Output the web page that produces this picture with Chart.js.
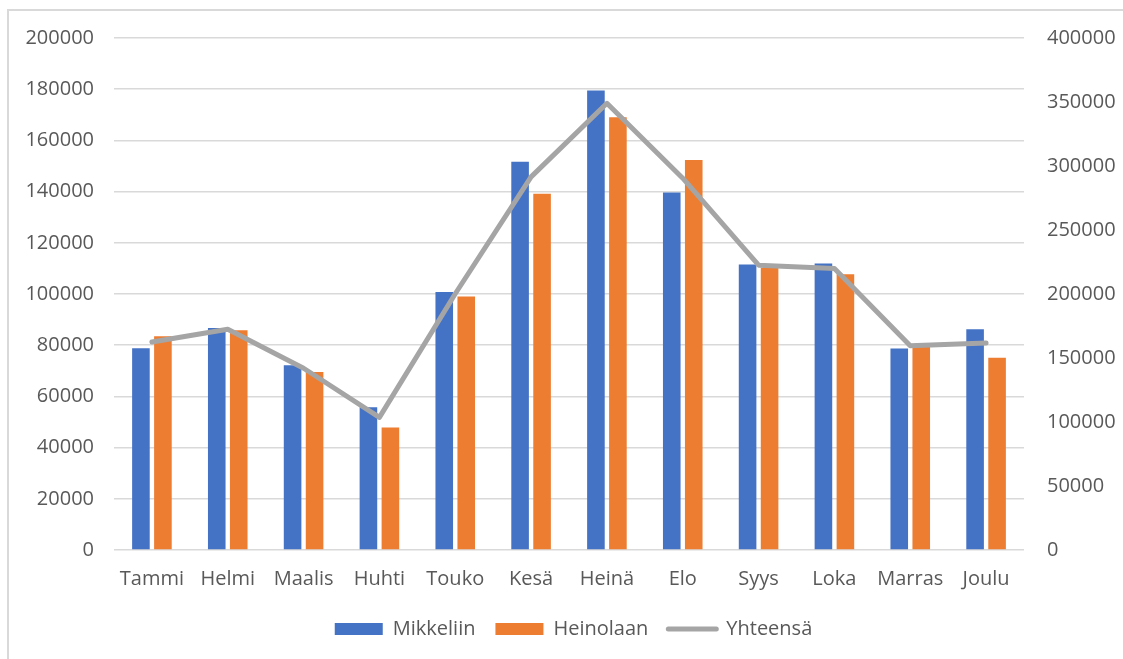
<!DOCTYPE html>
<html lang="fi">
<head>
<meta charset="utf-8">
<title>Matkustajat kuukausittain</title>
<script src="https://cdn.jsdelivr.net/npm/chart.js@4/dist/chart.umd.min.js"></script>
<style>
  html, body { margin: 0; padding: 0; background: #ffffff; }
  #wrap { position: relative; width: 1123px; height: 659px; overflow: hidden; background: #ffffff; }
  #frame { position: absolute; left: 7px; top: 9px; width: 1140px; height: 680px;
           border: 2px solid #d9d9d9; box-sizing: border-box; }
  #chart { position: absolute; left: 0; top: 0; }
</style>
</head>
<body>
<div id="wrap">
  <div id="frame"></div>
  <canvas id="chart" width="1123" height="659"></canvas>
</div>
<script>
// Kuukaudet
const months = ['Tammi', 'Helmi', 'Maalis', 'Huhti', 'Touko', 'Kesä', 'Heinä', 'Elo', 'Syys', 'Loka', 'Marras', 'Joulu'];

// Matkat Mikkeliin ja Heinolaan sekä yhteensä
const mikkeliin = [78800, 86700, 72200, 55800, 100800, 151700, 179500, 139600, 111500, 111900, 78700, 86200];
const heinolaan = [83500, 85800, 69500, 47900, 99000, 139200, 169000, 152300, 110200, 107700, 80500, 75100];
const yhteensa  = [162500, 172400, 142000, 103600, 200200, 291500, 349000, 290500, 222500, 220000, 159500, 161800];

// Akselien asteikot
const leftAxis  = { min: 0, max: 200000, step: 20000 };
const rightAxis = { min: 0, max: 400000, step: 50000 };

const BLUE = '#4472C4', ORANGE = '#ED7D31', GRAY = '#A5A5A5';
const TEXT = '#595959', GRID = '#D9D9D9';
const FONT = { family: "'Open Sans', sans-serif", size: 20 };

new Chart(document.getElementById('chart'), {
  type: 'bar',
  data: {
    labels: months,
    datasets: [
      { label: 'Mikkeliin', data: mikkeliin, backgroundColor: BLUE, yAxisID: 'y', order: 2,
        categoryPercentage: 0.58, barPercentage: 0.8 },
      { label: 'Heinolaan', data: heinolaan, backgroundColor: ORANGE, yAxisID: 'y', order: 2,
        categoryPercentage: 0.58, barPercentage: 0.8 },
      { type: 'line', label: 'Yhteensä', data: yhteensa, yAxisID: 'y2', order: 0,
        borderColor: GRAY, backgroundColor: GRAY, borderWidth: 5, pointRadius: 0,
        tension: 0, borderJoinStyle: 'round', borderCapStyle: 'round' }
    ]
  },
  options: {
    responsive: false,
    animation: false,
    layout: { padding: { left: 24, right: 0, top: 38, bottom: 10 } },
    scales: {
      x: {
        grid: { display: false, drawTicks: false },
        border: { display: false },
        ticks: { color: TEXT, font: FONT, padding: 17, maxRotation: 0, autoSkip: false },
        afterFit: s => { s.height = 49; }
      },
      y: {
        position: 'left',
        min: leftAxis.min, max: leftAxis.max,
        grid: { color: GRID, lineWidth: 1.5, drawTicks: false },
        border: { display: false },
        ticks: { stepSize: leftAxis.step, color: TEXT, font: FONT, padding: 20,
                 callback: v => String(v) },
        afterFit: s => { s.width = 90; }
      },
      y2: {
        position: 'right',
        min: rightAxis.min, max: rightAxis.max,
        grid: { display: false, drawTicks: false },
        border: { display: false },
        ticks: { stepSize: rightAxis.step, color: TEXT, font: FONT, padding: 23,
                 callback: v => String(v) },
        afterFit: s => { s.width = 99; }
      }
    },
    plugins: {
      tooltip: { enabled: false },
      legend: {
        position: 'bottom',
        labels: {
          color: TEXT,
          font: FONT,
          usePointStyle: true,
          pointStyleWidth: 48,
          boxHeight: 12,
          padding: 20,
          sort: (a, b) => a.datasetIndex - b.datasetIndex,
          generateLabels: chart => {
            const items = Chart.defaults.plugins.legend.labels.generateLabels(chart);
            items.forEach(it => {
              const ds = chart.data.datasets[it.datasetIndex];
              if (ds.type === 'line') {
                it.pointStyle = 'line';
                it.lineWidth = 5;
                it.strokeStyle = GRAY;
                it.lineCap = 'round';
              } else {
                it.pointStyle = 'rect';
                it.lineWidth = 0;
              }
            });
            return items;
          }
        }
      }
    }
  }
});
</script>
</body>
</html>
